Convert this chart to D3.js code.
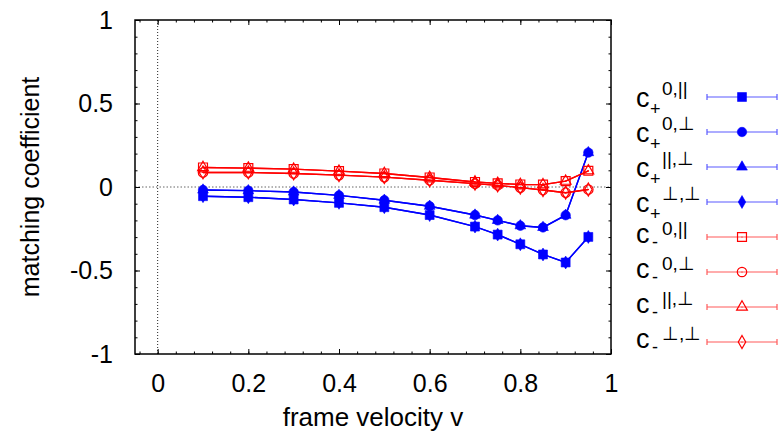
<!DOCTYPE html>
<html>
<head>
<meta charset="utf-8">
<script src="https://cdn.jsdelivr.net/npm/d3@7"></script>
<style>
  html, body { margin: 0; padding: 0; background: #fff; }
  svg { display: block; font-family: "Liberation Sans", Arial, Helvetica, sans-serif; }
</style>
</head>
<body>
<svg id="chart" width="779" height="439"></svg>
<script>
// frame velocity samples
const velocity = [0.1, 0.2, 0.3, 0.4, 0.5, 0.6, 0.7, 0.75, 0.8, 0.85, 0.9, 0.95];

// matching coefficients, c_+ family
const cPlus0Par   = [-0.055, -0.061, -0.075, -0.095, -0.121, -0.168, -0.237, -0.285, -0.343, -0.404, -0.452, -0.299];
const cPlus0Perp  = [-0.018, -0.022, -0.030, -0.050, -0.079, -0.115, -0.168, -0.200, -0.232, -0.242, -0.169, 0.206];
const cPlusParPerp  = [-0.018, -0.022, -0.030, -0.050, -0.079, -0.115, -0.168, -0.200, -0.232, -0.242, -0.169, 0.206];
const cPlusPerpPerp = [-0.055, -0.061, -0.075, -0.095, -0.121, -0.168, -0.237, -0.285, -0.343, -0.404, -0.452, -0.299];

// matching coefficients, c_- family
const cMinus0Par  = [0.117, 0.113, 0.107, 0.095, 0.081, 0.057, 0.030, 0.022, 0.015, 0.014, 0.035, 0.097];
const cMinus0Perp = [0.087, 0.087, 0.081, 0.071, 0.059, 0.040, 0.020, 0.010, -0.004, -0.018, -0.034, -0.015];
const cMinusParPerp  = [0.117, 0.113, 0.107, 0.095, 0.081, 0.057, 0.030, 0.022, 0.015, 0.014, 0.035, 0.097];
const cMinusPerpPerp = [0.087, 0.087, 0.081, 0.071, 0.059, 0.040, 0.020, 0.010, -0.004, -0.018, -0.034, -0.015];

// tick values
const xMajorTicks = [0, 0.2, 0.4, 0.6, 0.8, 1];
const xMinorTicks = d3.range(-0.04, 1.0001, 0.04);
const yMajorTicks = [-1, -0.5, 0, 0.5, 1];
const yMinorTicks = d3.range(-1, 1.0001, 0.1);

// series: label parts
const seriesNames  = ["cPlus0Par", "cPlus0Perp", "cPlusParPerp", "cPlusPerpPerp",
                      "cMinus0Par", "cMinus0Perp", "cMinusParPerp", "cMinusPerpPerp"];
const seriesValues = [cPlus0Par, cPlus0Perp, cPlusParPerp, cPlusPerpPerp,
                      cMinus0Par, cMinus0Perp, cMinusParPerp, cMinusPerpPerp];
const seriesSub    = ["+", "+", "+", "+", "-", "-", "-", "-"];
const seriesSup    = ["0,||", "0,\u22A5", "||,\u22A5", "\u22A5,\u22A5",
                      "0,||", "0,\u22A5", "||,\u22A5", "\u22A5,\u22A5"];

const svg = d3.select("#chart");
const plotLeft = 135, plotRight = 611, plotTop = 20, plotBottom = 354;

const x = d3.scaleLinear().domain([-0.05, 1]).range([plotLeft, plotRight]);
const y = d3.scaleLinear().domain([-1, 1]).range([plotBottom, plotTop]);

const fmt = d => (d === 0 ? "0" : String(+d.toFixed(2)));

// zero lines
svg.append("line")
  .attr("x1", plotLeft).attr("x2", plotRight).attr("y1", y(0)).attr("y2", y(0))
  .attr("stroke", "#666").attr("stroke-width", 1).attr("stroke-dasharray", "1.5,2");
svg.append("line")
  .attr("x1", x(0)).attr("x2", x(0)).attr("y1", plotTop).attr("y2", plotBottom)
  .attr("stroke", "#222").attr("stroke-width", 1).attr("stroke-dasharray", "1,2");

// axes: ticks point inward on all four sides
function styleAxis(g) {
  g.select(".domain").remove();
  g.selectAll(".tick line").attr("stroke", "#000").attr("stroke-width", 1);
  g.selectAll("text").attr("fill", "#000").attr("font-size", 25)
   .attr("font-family", "'Liberation Sans', Arial, sans-serif");
}
svg.append("g").attr("transform", `translate(0,${plotBottom})`)
  .call(d3.axisBottom(x).tickValues(xMajorTicks).tickSize(-5).tickPadding(20).tickFormat(fmt)).call(styleAxis);
svg.append("g").attr("transform", `translate(0,${plotBottom})`)
  .call(d3.axisBottom(x).tickValues(xMinorTicks).tickSize(-2.5).tickFormat("")).call(styleAxis);
svg.append("g").attr("transform", `translate(0,${plotTop})`)
  .call(d3.axisTop(x).tickValues(xMajorTicks).tickSize(-5).tickFormat("")).call(styleAxis);
svg.append("g").attr("transform", `translate(0,${plotTop})`)
  .call(d3.axisTop(x).tickValues(xMinorTicks).tickSize(-2.5).tickFormat("")).call(styleAxis);
svg.append("g").attr("transform", `translate(${plotLeft},0)`)
  .call(d3.axisLeft(y).tickValues(yMajorTicks).tickSize(-5).tickPadding(22).tickFormat(fmt)).call(styleAxis);
svg.append("g").attr("transform", `translate(${plotLeft},0)`)
  .call(d3.axisLeft(y).tickValues(yMinorTicks).tickSize(-2.5).tickFormat("")).call(styleAxis);
svg.append("g").attr("transform", `translate(${plotRight},0)`)
  .call(d3.axisRight(y).tickValues(yMajorTicks).tickSize(-5).tickFormat("")).call(styleAxis);
svg.append("g").attr("transform", `translate(${plotRight},0)`)
  .call(d3.axisRight(y).tickValues(yMinorTicks).tickSize(-2.5).tickFormat("")).call(styleAxis);

// frame
svg.append("rect")
  .attr("x", plotLeft).attr("y", plotTop).attr("width", plotRight - plotLeft).attr("height", plotBottom - plotTop)
  .attr("fill", "none").attr("stroke", "#000").attr("stroke-width", 1.5);

// axis titles
svg.append("text")
  .attr("x", (plotLeft + plotRight) / 2).attr("y", 426)
  .attr("text-anchor", "middle").attr("font-size", 26).text("frame velocity v");
svg.append("text")
  .attr("transform", `translate(39,${(plotTop + plotBottom) / 2}) rotate(-90)`)
  .attr("text-anchor", "middle").attr("font-size", 25).text("matching coefficient");

// marker styles
const symbolTypes = [d3.symbolSquare, d3.symbolCircle, d3.symbolTriangle, d3.symbolDiamond];
const symbolSizes = [80, 70, 50, 48];
function seriesStyle(i) {
  const blue = i < 4;
  return {
    color: blue ? "#0000ff" : "#ff0000",
    legendColor: blue ? "#5a5aff" : "#ff5a5a",
    symbol: d3.symbol().type(symbolTypes[i % 4]).size(symbolSizes[i % 4]),
    filled: blue
  };
}

function drawMarker(g, st, cx, cy) {
  g.append("path")
    .attr("transform", `translate(${cx},${cy})`)
    .attr("d", st.symbol())
    .attr("fill", st.filled ? st.color : "none")
    .attr("stroke", st.color)
    .attr("stroke-width", st.filled ? 0.6 : 1.2);
  if (!st.filled) {
    g.append("circle").attr("cx", cx).attr("cy", cy).attr("r", 0.6).attr("fill", st.color);
  }
}

// data lines and points; within each family the later series lie underneath
const line = d3.line().x(d => x(d[0])).y(d => y(d[1]));
const plot = svg.append("g");
const drawOrder = [3, 2, 1, 0, 7, 6, 5, 4];
drawOrder.forEach(i => {
  const st = seriesStyle(i);
  const vals = seriesValues[i];
  const pts = velocity.map((v, k) => [v, vals[k]]);
  const g = plot.append("g").attr("class", seriesNames[i]);
  g.append("path").attr("d", line(pts)).attr("fill", "none")
    .attr("stroke", st.color).attr("stroke-width", 1.4);
  pts.forEach(p => drawMarker(g, st, x(p[0]), y(p[1])));
});

// legend
const legend = svg.append("g");
seriesValues.forEach((vals, i) => {
  const st = seriesStyle(i);
  const ly = 97 + 35 * i;
  const plus = i < 4;
  const t = legend.append("text").attr("fill", "#000");
  t.append("tspan").attr("x", 636).attr("y", ly + (plus ? 10 : 6)).attr("font-size", 27).text("c");
  t.append("tspan").attr("x", plus ? 650 : 652).attr("y", ly + (plus ? 18 : 11)).attr("font-size", 18)
    .text(seriesSub[i]);
  t.append("tspan").attr("x", 662).attr("y", ly - 2).attr("font-size", 19).text(seriesSup[i]);

  legend.append("line").attr("x1", 707).attr("x2", 777).attr("y1", ly).attr("y2", ly)
    .attr("stroke", st.legendColor).attr("stroke-width", 1.2);
  [707, 777].forEach(cx => legend.append("line")
    .attr("x1", cx).attr("x2", cx).attr("y1", ly - 3).attr("y2", ly + 3)
    .attr("stroke", st.legendColor).attr("stroke-width", 1.2));
  drawMarker(legend, st, 742, ly);
});
</script>
</body>
</html>
